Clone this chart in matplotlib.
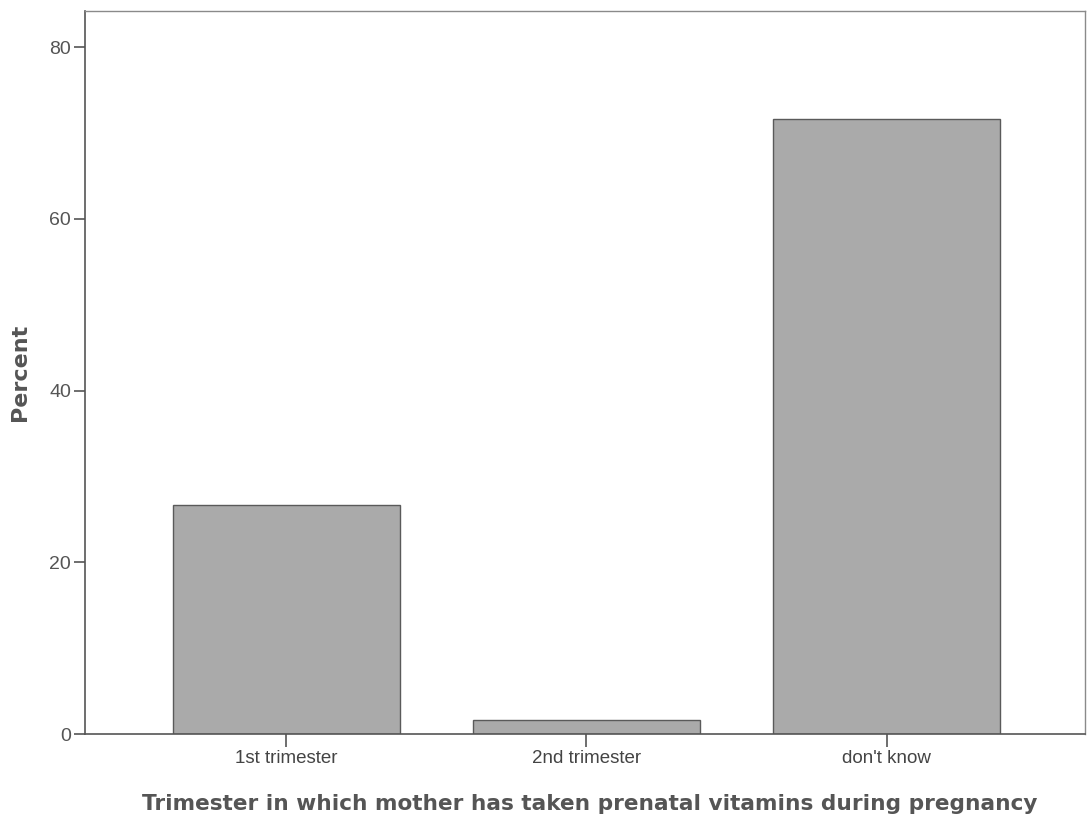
import matplotlib
matplotlib.use("Agg")
import matplotlib.pyplot as plt
import numpy as np

categories = ["1st trimester", "2nd trimester", "don't know"]
percents = [26.7, 1.7, 71.6]
yticks = [0, 20, 40, 60, 80]

fig = plt.figure(figsize=(10.87, 8.18), dpi=100)
ax = fig.add_axes([0.0782, 0.1023, 0.9198, 0.8843])

x = np.arange(len(categories))
ax.bar(x, percents, width=0.757, color="#aaaaaa", edgecolor="#5a5a5a", linewidth=1.0)

ax.set_xlim(-0.67, 2.66)
ax.set_ylim(0, 84.2)
ax.set_yticks(yticks)
ax.set_xticks(x)
ax.set_xticklabels(categories)

for side in ["left", "bottom"]:
    ax.spines[side].set_color("#555555")
    ax.spines[side].set_linewidth(1.2)
for side in ["top", "right"]:
    ax.spines[side].set_color("#8a8a8a")
    ax.spines[side].set_linewidth(1.0)

ax.tick_params(axis="y", direction="out", length=8, width=1.2, color="#555555",
               labelsize=14, labelcolor="#555555", pad=2)
ax.tick_params(axis="x", direction="out", length=9, width=1.2, color="#555555",
               labelsize=13.5, labelcolor="#444444", pad=2)
for lab in ax.get_xticklabels() + ax.get_yticklabels():
    lab.set_family("Liberation Sans")

ax.set_ylabel("Percent", fontsize=16, fontweight="bold", color="#555555",
              family="DejaVu Sans", labelpad=14)
ax.set_xlabel("Trimester in which mother has taken prenatal vitamins during pregnancy",
              fontsize=15.6, fontweight="bold", color="#555555", family="DejaVu Sans",
              labelpad=18)
ax.xaxis.set_label_coords(0.505, -0.082)

fig.savefig("out.png", dpi=100, facecolor="white")
